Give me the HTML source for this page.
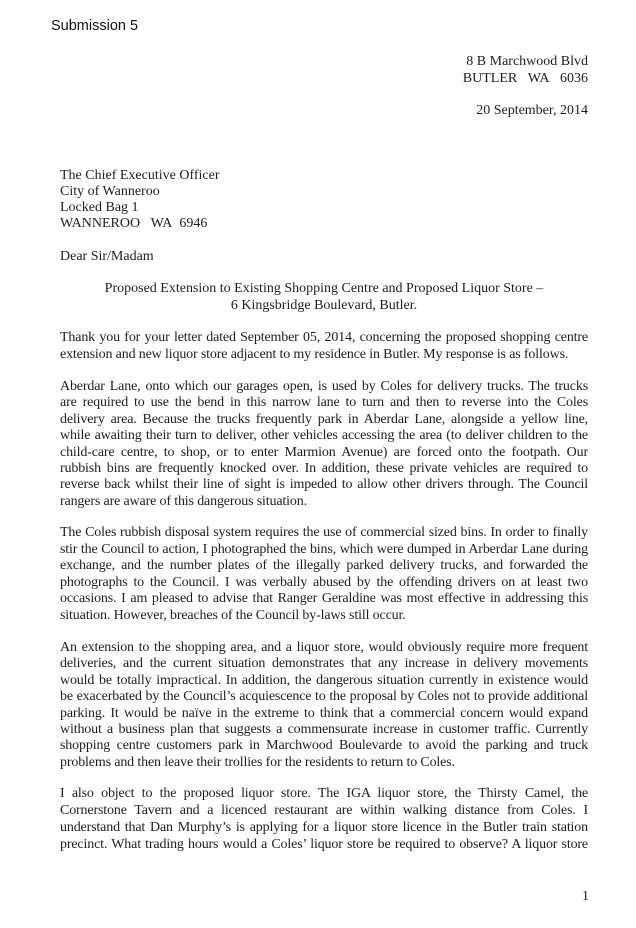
<!DOCTYPE html>
<html><head><meta charset="utf-8"><style>
html,body{margin:0;padding:0;background:#fff;}
body{width:636px;height:928px;position:relative;overflow:hidden;font-family:"Liberation Serif",serif;color:#1e1e1e;font-size:14px;}
.l{position:absolute;left:60px;width:528px;line-height:16px;height:16px;white-space:nowrap;text-align:justify;text-align-last:justify;letter-spacing:-0.15px;}
.e{text-align-last:left;}
.a{position:absolute;line-height:16px;white-space:nowrap;}
</style></head><body>
<div class="a" style="left:51px;top:18px;font-family:'Liberation Sans',sans-serif;font-size:14.5px;color:#111">Submission 5</div>
<div class="a" style="right:48px;top:54px;">8 B Marchwood Blvd</div>
<div class="a" style="right:48px;top:71px;">BUTLER&nbsp;&nbsp;&nbsp;WA&nbsp;&nbsp;&nbsp;6036</div>
<div class="a" style="right:48px;top:103px;">20 September, 2014</div>
<div class="a" style="left:60px;top:168px;">The Chief Executive Officer</div>
<div class="a" style="left:60px;top:184px;">City of Wanneroo</div>
<div class="a" style="left:60px;top:200px;">Locked Bag 1</div>
<div class="a" style="left:60px;top:216px;">WANNEROO&nbsp;&nbsp;&nbsp;WA&nbsp;&nbsp;6946</div>
<div class="a" style="left:60px;top:249px;">Dear Sir/Madam</div>
<div class="a" style="left:0;width:648px;text-align:center;top:281px;">Proposed Extension to Existing Shopping Centre and Proposed Liquor Store –</div>
<div class="a" style="left:0;width:648px;text-align:center;top:298px;">6 Kingsbridge Boulevard, Butler.</div>

<div class="l" style="top:330px">Thank you for your letter dated September 05, 2014, concerning the proposed shopping centre</div>
<div class="l e" style="top:347px">extension and new liquor store adjacent to my residence in Butler. My response is as follows.</div>

<div class="l" style="top:379px">Aberdar Lane, onto which our garages open, is used by Coles for delivery trucks. The trucks</div>
<div class="l" style="top:395px">are required to use the bend in this narrow lane to turn and then to reverse into the Coles</div>
<div class="l" style="top:412px">delivery area. Because the trucks frequently park in Aberdar Lane, alongside a yellow line,</div>
<div class="l" style="top:428px">while awaiting their turn to deliver, other vehicles accessing the area (to deliver children to the</div>
<div class="l" style="top:445px">child-care centre, to shop, or to enter Marmion Avenue) are forced onto the footpath. Our</div>
<div class="l" style="top:461px">rubbish bins are frequently knocked over. In addition, these private vehicles are required to</div>
<div class="l" style="top:477px">reverse back whilst their line of sight is impeded to allow other drivers through. The Council</div>
<div class="l e" style="top:494px">rangers are aware of this dangerous situation.</div>

<div class="l" style="top:525px">The Coles rubbish disposal system requires the use of commercial sized bins. In order to finally</div>
<div class="l" style="top:542px">stir the Council to action, I photographed the bins, which were dumped in Arberdar Lane during</div>
<div class="l" style="top:558px">exchange, and the number plates of the illegally parked delivery trucks, and forwarded the</div>
<div class="l" style="top:575px">photographs to the Council. I was verbally abused by the offending drivers on at least two</div>
<div class="l" style="top:591px">occasions. I am pleased to advise that Ranger Geraldine was most effective in addressing this</div>
<div class="l e" style="top:608px">situation. However, breaches of the Council by-laws still occur.</div>

<div class="l" style="top:640px">An extension to the shopping area, and a liquor store, would obviously require more frequent</div>
<div class="l" style="top:656px">deliveries, and the current situation demonstrates that any increase in delivery movements</div>
<div class="l" style="top:673px">would be totally impractical. In addition, the dangerous situation currently in existence would</div>
<div class="l" style="top:689px">be exacerbated by the Council’s acquiescence to the proposal by Coles not to provide additional</div>
<div class="l" style="top:706px">parking. It would be naïve in the extreme to think that a commercial concern would expand</div>
<div class="l" style="top:722px">without a business plan that suggests a commensurate increase in customer traffic. Currently</div>
<div class="l" style="top:738px">shopping centre customers park in Marchwood Boulevarde to avoid the parking and truck</div>
<div class="l e" style="top:755px">problems and then leave their trollies for the residents to return to Coles.</div>

<div class="l" style="top:786px">I also object to the proposed liquor store. The IGA liquor store, the Thirsty Camel, the</div>
<div class="l" style="top:803px">Cornerstone Tavern and a licenced restaurant are within walking distance from Coles. I</div>
<div class="l" style="top:820px">understand that Dan Murphy’s is applying for a liquor store licence in the Butler train station</div>
<div class="l" style="top:837px">precinct. What trading hours would a Coles’ liquor store be required to observe? A liquor store</div>

<div class="a" style="left:582px;top:889px;">1</div>
</body></html>
